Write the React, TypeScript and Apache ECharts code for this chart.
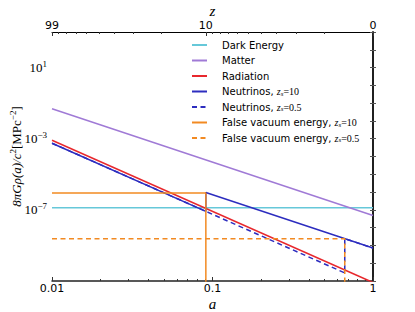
import React, { useEffect, useRef } from "react";
import * as echarts from "echarts";

// ---- data ----
const aMin = 0.01;
const aMax = 1;
const yMin = 1e-11;
const yMax = 1e3;
const yLabelExponents = [1, -3, -7];
const zTickLabels = [99, 10, 0];
const zMinorTicks = [90, 80, 70, 60, 50, 40, 30, 20, 9, 8, 7, 6, 5, 4, 3, 2, 1];

const seriesNames = [
  "Dark Energy",
  "Matter",
  "Radiation",
  "Neutrinos, z_s=10",
  "Neutrinos, z_s=0.5",
  "False vacuum energy, z_s=10",
  "False vacuum energy, z_s=0.5",
];
const seriesColors = ["#66c8d9", "#a07ad6", "#e8282d", "#2d2dbf", "#2d2dbf", "#f28a22", "#f28a22"];
const seriesDashed = [false, false, false, false, true, false, true];

const darkEnergy = [[0.01, 1.3e-7], [1, 1.3e-7]];
const matter = [[0.01, 4.8e-2], [1, 4.8e-8]];
const radiation = [[0.01, 8.2e-4], [1, 8.2e-12]];
const neutrinos10 = [[0.01, 5.6e-4], [0.0909, 8.2e-8], [0.0909, 9.5e-7], [1, 7.1e-10]];
const neutrinos05 = [[0.01, 5.6e-4], [0.667, 2.85e-11], [0.667, 2.4e-9], [1, 7.1e-10]];
const falseVacuum10 = [[0.01, 9e-7], [0.0909, 9e-7], [0.0909, 1e-12]];
const falseVacuum05 = [[0.01, 2.4e-9], [0.667, 2.4e-9], [0.667, 1e-12]];

const seriesData = [darkEnergy, matter, radiation, neutrinos10, neutrinos05, falseVacuum10, falseVacuum05];

const SERIF = "'Liberation Serif', 'DejaVu Serif', serif";
const SANS = "'DejaVu Sans', sans-serif";

export default function App() {
  const ref = useRef<HTMLDivElement>(null);

  useEffect(() => {
    if (!ref.current) return;
    const chart = echarts.init(ref.current, undefined, { renderer: "svg" });

    const logAMin = Math.log10(aMin);
    const logAMax = Math.log10(aMax);
    const zPos = (z: number) => Math.log10(1 / (1 + z));
    const bottomMinor: number[] = [];
    for (let d = logAMin; d < logAMax; d++) {
      for (let k = 2; k <= 9; k++) bottomMinor.push(d + Math.log10(k));
    }

    const option: any = {
      animation: false,
      backgroundColor: "#ffffff",
      grid: { left: 52, right: 42, top: 32, bottom: 31, containLabel: false, outerBoundsMode: "none" },
      legend: {
        orient: "vertical",
        left: 186,
        top: 34,
        itemWidth: 15,
        itemHeight: 10,
        itemGap: 3.5,
        data: seriesNames,
        itemStyle: { opacity: 0, borderWidth: 0 },
        formatter: (name: string) => {
          const m = name.match(/^(.*), z_s=(.*)$/);
          if (!m) return name;
          return `${m[1]}, {i|z}{sub|s}{m|=${m[2]}}`;
        },
        textStyle: {
          fontFamily: SANS,
          fontSize: 10,
          color: "#000",
          lineHeight: 12,
          padding: [0, 0, 0, 10],
          rich: {
            i: { fontFamily: SERIF, fontStyle: "italic", fontSize: 10, lineHeight: 12 },
            sub: { fontFamily: SERIF, fontStyle: "italic", fontSize: 7, lineHeight: 12, padding: [4, 0, 0, 0] },
            m: { fontFamily: SERIF, fontSize: 10, lineHeight: 12 },
          },
        },
      },
      xAxis: [
        {
          type: "log",
          min: aMin,
          max: aMax,
          position: "bottom",
          name: "a",
          nameLocation: "middle",
          nameGap: 15,
          nameMoveOverlap: false,
          nameTextStyle: { fontFamily: SERIF, fontStyle: "italic", fontSize: 15, color: "#000", verticalAlign: "top" },
          axisLine: { show: true, lineStyle: { color: "#222", width: 1.5 } },
          axisTick: { show: true, inside: true, length: 4, lineStyle: { color: "#333" } },
          axisLabel: {
            fontFamily: SANS,
            fontSize: 11,
            color: "#000",
            margin: 2,
            showMinLabel: true,
            showMaxLabel: true,
            formatter: (v: number) => {
              const e = Math.round(Math.log10(v));
              return e === 0 ? "1" : e === -1 ? "0.1" : "0.01";
            },
          },
          splitLine: { show: false },
        },
        {
          type: "value",
          min: logAMin,
          max: logAMax,
          position: "top",
          name: "z",
          nameLocation: "middle",
          nameGap: 14,
          nameMoveOverlap: false,
          nameTextStyle: { fontFamily: SERIF, fontStyle: "italic", fontSize: 15, color: "#000" },
          axisLine: { show: true, lineStyle: { color: "#000", width: 1 } },
          axisTick: {
            show: true,
            inside: true,
            length: 4,
            customValues: zTickLabels.map(zPos),
            lineStyle: { color: "#333" },
          },
          axisLabel: {
            fontFamily: SANS,
            fontSize: 11,
            color: "#000",
            margin: 1,
            showMinLabel: true,
            showMaxLabel: true,
            customValues: zTickLabels.map(zPos),
            formatter: (v: number) => String(Math.round(Math.pow(10, -v) - 1)),
          },
          splitLine: { show: false },
        },
        {
          type: "value",
          min: logAMin,
          max: logAMax,
          position: "bottom",
          axisLine: { show: false },
          axisTick: { show: true, inside: true, length: 2, customValues: bottomMinor, lineStyle: { color: "#333" } },
          axisLabel: { show: false },
          splitLine: { show: false },
        },
        {
          type: "value",
          min: logAMin,
          max: logAMax,
          position: "top",
          axisLine: { show: false },
          axisTick: {
            show: true,
            inside: true,
            length: 2,
            customValues: zMinorTicks.map(zPos),
            lineStyle: { color: "#333" },
          },
          axisLabel: { show: false },
          splitLine: { show: false },
        },
      ],
      yAxis: [
        {
          type: "log",
          min: yMin,
          max: yMax,
          interval: 1,
          position: "left",
          name: "{i|8πGρ(a)/c}{sup|2}{r|[MPc}{sup|−2}{r|]}",
          nameLocation: "middle",
          nameGap: 28,
          nameRotate: 90,
          nameMoveOverlap: false,
          nameTextStyle: {
            fontFamily: SERIF,
            fontSize: 13,
            color: "#000",
            rich: {
              i: { fontFamily: SERIF, fontStyle: "italic", fontSize: 13, lineHeight: 16 },
              r: { fontFamily: SERIF, fontSize: 13, lineHeight: 16 },
              sup: { fontFamily: SERIF, fontSize: 9, lineHeight: 16, padding: [0, 0, 7, 0] },
            },
          },
          axisLine: { show: true, lineStyle: { color: "#808080", width: 2 } },
          axisTick: { show: true, inside: true, length: 3, lineStyle: { color: "#555" } },
          axisLabel: {
            margin: 5,
            color: "#000",
            formatter: (v: number) => {
              const e = Math.round(Math.log10(v));
              if (yLabelExponents.indexOf(e) < 0) return "";
              const s = e < 0 ? "−" + String(-e) : String(e);
              return `{b|10}{s|${s}}`;
            },
            rich: {
              b: { fontFamily: SERIF, fontSize: 13, lineHeight: 16 },
              s: { fontFamily: SERIF, fontSize: 9, lineHeight: 16, padding: [0, 0, 8, 0] },
            },
          },
          splitLine: { show: false },
        },
        {
          type: "log",
          min: yMin,
          max: yMax,
          interval: 1,
          position: "right",
          axisLine: { show: true, lineStyle: { color: "#000", width: 1.5 } },
          axisTick: { show: true, inside: true, length: 3, lineStyle: { color: "#555" } },
          axisLabel: { show: false },
          splitLine: { show: false },
        },
      ],
      series: seriesNames.map((name, i) => ({
        name,
        type: "line",
        xAxisIndex: 0,
        yAxisIndex: 0,
        data: seriesData[i],
        symbol: "none",
        showSymbol: false,
        clip: true,
        lineStyle: {
          color: seriesColors[i],
          width: 1.5,
          type: seriesDashed[i] ? [5, 3.5] : "solid",
        },
        itemStyle: { color: seriesColors[i] },
      })),
    };

    chart.setOption(option);
    return () => chart.dispose();
  }, []);

  return (
    <div
      ref={ref}
      style={{ position: "absolute", left: 0, top: 0, width: 415, height: 312, background: "#fff" }}
    />
  );
}
